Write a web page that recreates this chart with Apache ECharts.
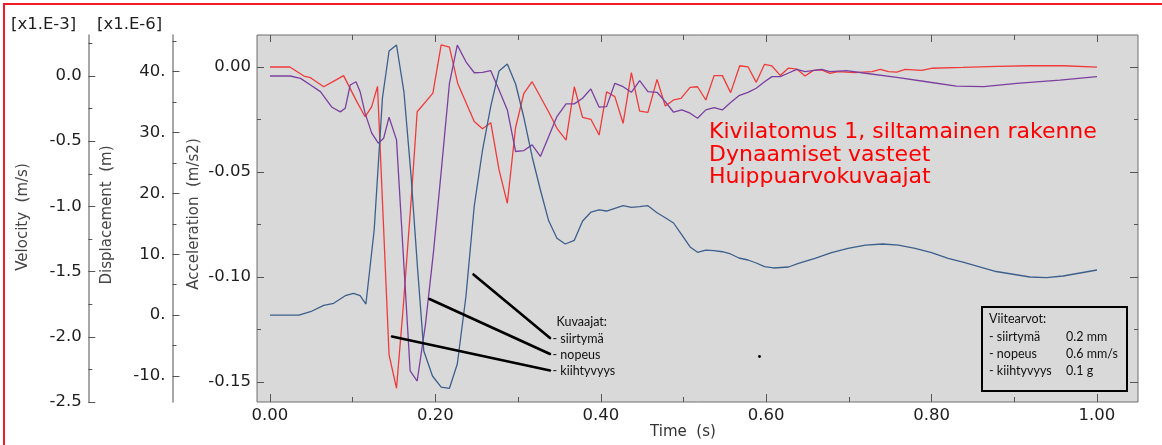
<!DOCTYPE html>
<html><head><meta charset="utf-8">
<script src="https://cdn.jsdelivr.net/npm/echarts@6/dist/echarts.min.js"></script>
<style>html,body{margin:0;padding:0;background:#fff}#c{width:1162px;height:445px}</style>
</head><body><div id="c"></div>
<script>
// ---- data ----
const accT = [0,0.024,0.041,0.049,0.065,0.081,0.089,0.105,0.115,0.123,0.130,0.144,0.153,0.161,0.171,0.178,0.197,0.207,0.217,0.227,0.247,0.257,0.267,0.277,0.287,0.297,0.307,0.317,0.337,0.347,0.358,0.368,0.378,0.388,0.398,0.407,0.417,0.427,0.437,0.447,0.457,0.468,0.478,0.488,0.497,0.508,0.517,0.527,0.537,0.547,0.557,0.568,0.578,0.588,0.598,0.607,0.617,0.627,0.637,0.647,0.657,0.667,0.677,0.687,0.707,0.728,0.738,0.748,0.758,0.768,0.788,0.800,0.838,0.879,0.919,0.959,1.0];
const accV = [0,0,-0.0043,-0.0051,-0.0094,-0.0059,-0.0041,-0.0165,-0.0237,-0.0189,-0.0092,-0.1371,-0.1530,-0.1149,-0.0618,-0.0213,-0.0124,0.0105,0.0095,-0.0078,-0.0260,-0.0294,-0.0265,-0.0490,-0.0649,-0.0288,-0.0125,-0.0070,-0.0214,-0.0292,-0.0348,-0.0094,-0.0240,-0.0249,-0.0324,-0.0118,-0.0141,-0.0268,-0.0027,-0.0210,-0.0216,-0.0059,-0.0186,-0.0157,-0.0149,-0.0097,-0.0094,-0.0157,-0.0041,-0.0041,-0.0122,0.0006,0.0001,-0.0073,0.0013,0.0005,-0.0040,-0.0005,-0.0010,-0.0043,-0.0016,-0.0014,-0.0030,-0.0022,-0.0027,-0.0022,-0.0011,-0.0022,-0.0024,-0.0011,-0.0016,-0.0006,-0.0002,0.0003,0.0006,0.0006,-0.0001];

const velT = [0,0.0245,0.037,0.049,0.061,0.075,0.085,0.091,0.097,0.104,0.109,0.115,0.123,0.131,0.1375,0.144,0.153,0.1695,0.178,0.188,0.198,0.207,0.217,0.2265,0.237,0.247,0.257,0.267,0.277,0.287,0.297,0.307,0.317,0.327,0.337,0.347,0.358,0.368,0.378,0.388,0.398,0.407,0.417,0.427,0.437,0.447,0.457,0.468,0.478,0.488,0.498,0.508,0.517,0.527,0.537,0.547,0.557,0.567,0.578,0.588,0.598,0.607,0.617,0.627,0.637,0.647,0.667,0.677,0.697,0.720,0.758,0.798,0.830,0.863,0.903,0.955,1.0];
const velV = [0,0,-0.018,-0.069,-0.120,-0.240,-0.275,-0.247,-0.069,-0.044,-0.120,-0.285,-0.438,-0.515,-0.477,-0.316,-0.490,-2.262,-2.339,-1.905,-1.331,-0.735,-0.056,0.237,0.109,0.025,0.028,0.041,-0.107,-0.260,-0.579,-0.572,-0.528,-0.617,-0.464,-0.311,-0.214,-0.214,-0.171,-0.099,-0.239,-0.235,-0.056,-0.082,-0.125,-0.036,-0.120,-0.125,-0.197,-0.278,-0.260,-0.285,-0.324,-0.260,-0.243,-0.260,-0.204,-0.151,-0.125,-0.094,-0.044,-0.005,-0.005,0.023,0.051,0.033,0.051,0.033,0.041,0.021,-0.011,-0.048,-0.077,-0.082,-0.056,-0.031,-0.005];

const dispT = [0,0.035,0.049,0.065,0.077,0.091,0.101,0.109,0.116,0.126,0.136,0.144,0.153,0.162,0.1705,0.1786,0.186,0.1965,0.207,0.217,0.2265,0.237,0.247,0.257,0.267,0.277,0.287,0.297,0.307,0.317,0.327,0.337,0.347,0.357,0.368,0.378,0.388,0.398,0.407,0.417,0.427,0.437,0.447,0.457,0.468,0.478,0.488,0.498,0.508,0.517,0.527,0.537,0.547,0.557,0.567,0.578,0.588,0.598,0.609,0.627,0.639,0.659,0.679,0.699,0.720,0.741,0.760,0.780,0.800,0.820,0.838,0.878,0.919,0.939,0.959,1.0];
const dispV = [0,0,0.56,1.6,1.95,3.19,3.59,3.19,1.83,13.99,35.68,43.40,44.39,36.66,23.03,7.42,-5.89,-10.0,-11.81,-12.02,-8.03,3.14,17.93,27.13,34.36,40.12,41.27,37.98,32.47,26.03,20.56,15.50,12.63,11.69,12.30,15.47,16.91,17.28,17.11,17.55,17.98,17.72,17.82,17.98,16.83,16.01,15.14,13.17,11.20,10.33,10.70,10.59,10.42,10.05,9.39,9.06,8.57,7.96,7.75,7.91,8.52,9.34,10.26,10.98,11.52,11.69,11.52,10.98,10.26,9.34,8.73,7.17,6.27,6.15,6.43,7.42];

const timeTicks = [0, 0.2, 0.4, 0.6, 0.8, 1.0];
const timeMinor = [0.1, 0.3, 0.5, 0.7, 0.9];
const accTicks = [-0.15, -0.10, -0.05, 0.00];
const accMinor = [-0.125, -0.075, -0.025];
const dispTicks = [-10, 0, 10, 20, 30, 40];
const dispMinor = [-5, 5, 15, 25, 35, 45];
const velTicks = [-2.5, -2.0, -1.5, -1.0, -0.5, 0.0];
const velMinor = [-2.25, -1.75, -1.25, -0.75, -0.25, 0.25];

// ---- chart ----
const FONT = 'DejaVu Sans';
const LBL = 16.5;
const TICKC = '#555';
const chart = echarts.init(document.getElementById('c'));

function ax(extra) {
  return Object.assign({
    type: 'value', gridIndex: 0,
    splitLine: {show: false},
    axisLine: {show: false, onZero: false},
    axisLabel: {show: false},
    axisTick: {show: false}
  }, extra);
}
function ticks(vals, len) {
  return {show: true, inside: true, length: len, customValues: vals, lineStyle: {color: TICKC, width: 1}};
}
function labels(vals, fmt, margin) {
  return {show: true, customValues: vals, formatter: fmt, margin: margin, fontSize: LBL, fontFamily: FONT, color: '#1e1e1e'};
}
const X = {min: -0.0157, max: 1.0496};
const A = {min: -0.15952, max: 0.01524};
const D = {min: -14.27, max: 46.03};
const V = {min: -2.5, max: 0.3144};
const axisLineGray = {show: true, onZero: false, lineStyle: {color: '#8a8a8a', width: 1.5}};

const series = [
  {data: accT.map((t, i) => [t, accV[i]]), yAxisIndex: 0, color: '#f03a3a'},
  {data: velT.map((t, i) => [t, velV[i]]), yAxisIndex: 6, color: '#7b3f9f'},
  {data: dispT.map((t, i) => [t, dispV[i]]), yAxisIndex: 4, color: '#3d5f8c'}
].map(s => ({
  type: 'line', xAxisIndex: 0, yAxisIndex: s.yAxisIndex, data: s.data,
  showSymbol: false, symbol: 'none', silent: true, animation: false,
  lineStyle: {color: s.color, width: 1.3}, itemStyle: {color: s.color}
}));

function txt(x, y, text, o) {
  o = o || {};
  return {
    type: 'text', x: x, y: y, rotation: o.rot || 0, silent: true, z: 100,
    style: {text: text, fontSize: o.size || 15, fontFamily: o.family || FONT,
      fill: o.color || '#1e1e1e', align: o.align || 'left', verticalAlign: o.va || 'middle'}
  };
}
function seg(x1, y1, x2, y2) {
  return {type: 'line', silent: true, z: 100, shape: {x1: x1, y1: y1, x2: x2, y2: y2},
    style: {stroke: '#000', lineWidth: 2.6, lineCap: 'round'}};
}
const SMALL = {size: 12.5, family: 'Lato', color: '#111'};

chart.setOption({
  animation: false,
  backgroundColor: '#ffffff',
  grid: {left: 257, top: 35, width: 881, height: 367, show: true,
    backgroundColor: '#d9d9d9', borderColor: '#6e6e6e', borderWidth: 1},
  xAxis: [
    ax(Object.assign({position: 'bottom', axisTick: ticks(timeTicks, 8),
      axisLabel: labels(timeTicks, v => v.toFixed(2), 5)}, X)),
    ax(Object.assign({position: 'bottom', axisTick: ticks(timeMinor, 5)}, X)),
    ax(Object.assign({position: 'top', axisTick: ticks(timeTicks, 7)}, X)),
    ax(Object.assign({position: 'top', axisTick: ticks(timeMinor, 5)}, X))
  ],
  yAxis: [
    ax(Object.assign({position: 'left', axisTick: ticks(accTicks, 7),
      axisLabel: labels(accTicks, v => v.toFixed(2), 6)}, A)),
    ax(Object.assign({position: 'left', axisTick: ticks(accMinor, 4)}, A)),
    ax(Object.assign({position: 'right', axisTick: ticks(accTicks, 8)}, A)),
    ax(Object.assign({position: 'right', axisTick: ticks(accMinor, 4)}, A)),
    ax(Object.assign({position: 'left', offset: 84.5, axisLine: axisLineGray,
      axisTick: ticks(dispTicks, 7), axisLabel: labels(dispTicks, v => Math.round(v) + '.', 7)}, D)),
    ax(Object.assign({position: 'left', offset: 84.5, axisTick: ticks(dispMinor, 4)}, D)),
    ax(Object.assign({position: 'left', offset: 168.7, axisLine: axisLineGray,
      axisTick: ticks(velTicks, 7), axisLabel: labels(velTicks, v => v.toFixed(1), 6.5)}, V)),
    ax(Object.assign({position: 'left', offset: 168.7, axisTick: ticks(velMinor, 4)}, V))
  ],
  series: series,
  graphic: [
    {type: 'rect', silent: true, shape: {x: 4, y: 4, width: 1300, height: 600},
      style: {fill: 'none', stroke: '#ee1c25', lineWidth: 2}},
    txt(11, 25, '[x1.E-3]', {size: LBL}),
    txt(97, 25, '[x1.E-6]', {size: LBL}),
    txt(23, 217, 'Velocity  (m/s)', {rot: Math.PI / 2, align: 'center', color: '#444'}),
    txt(107, 215, 'Displacement  (m)', {rot: Math.PI / 2, align: 'center', color: '#444'}),
    txt(194, 214, 'Acceleration  (m/s2)', {rot: Math.PI / 2, align: 'center', color: '#444'}),
    txt(683, 432, 'Time  (s)', {align: 'center', color: '#333'}),
    txt(709, 132.5, 'Kivilatomus 1, siltamainen rakenne', {size: 22, color: '#ff0000'}),
    txt(709, 155, 'Dynaamiset vasteet', {size: 22, color: '#ff0000'}),
    txt(709, 177.5, 'Huippuarvokuvaajat', {size: 22, color: '#ff0000'}),
    seg(473.5, 274.5, 550, 338),
    seg(429.5, 299, 550, 354),
    seg(392, 336.5, 550, 370.5),
    txt(556.5, 322, 'Kuvaajat:', SMALL),
    txt(552.5, 338.5, '- siirtymä', SMALL),
    txt(552.5, 354.5, '- nopeus', SMALL),
    txt(552.5, 371, '- kiihtyvyys', SMALL),
    {type: 'circle', silent: true, z: 100, shape: {cx: 759.5, cy: 356.5, r: 1.4}, style: {fill: '#000'}},
    {type: 'rect', silent: true, z: 100, shape: {x: 982, y: 307, width: 145, height: 84},
      style: {fill: 'none', stroke: '#000', lineWidth: 2}},
    txt(989, 319, 'Viitearvot:', SMALL),
    txt(989, 336.5, '- siirtymä', SMALL),
    txt(989, 353.5, '- nopeus', SMALL),
    txt(989, 371, '- kiihtyvyys', SMALL),
    txt(1066, 336.5, '0.2 mm', SMALL),
    txt(1066, 353.5, '0.6 mm/s', SMALL),
    txt(1066, 371, '0.1 g', SMALL)
  ]
});
</script>
</body></html>
